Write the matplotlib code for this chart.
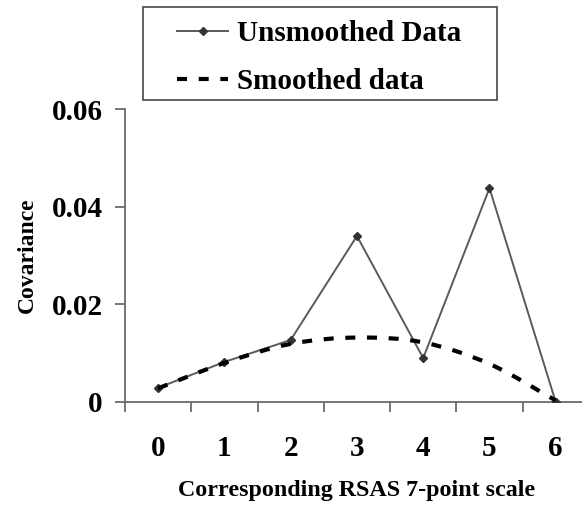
import numpy as np
import matplotlib.pyplot as plt
from matplotlib.path import Path
from matplotlib.patches import PathPatch, Rectangle
from matplotlib.lines import Line2D
from matplotlib.ticker import FixedLocator

# -------- DATA --------
scale_points = [0, 1, 2, 3, 4, 5, 6]
unsmoothed = [0.0029, 0.0082, 0.0127, 0.0340, 0.0090, 0.0438, 0.0000]
smoothed = [0.0028, 0.0080, 0.0119, 0.0132, 0.0122, 0.0078, 0.0003]
y_ticks = [0, 0.02, 0.04, 0.06]
y_tick_labels = ["0", "0.02", "0.04", "0.06"]
# ----------------------

plt.rcParams["font.family"] = ["Liberation Serif", "DejaVu Serif"]
plt.rcParams["font.weight"] = "bold"

AXIS_GREY = "#6a6a6a"

fig = plt.figure(figsize=(5.82, 5.05), dpi=100)
ax = fig.add_axes([0.2148, 0.204, 0.797, 0.580])

# unsmoothed line with small diamonds
ax.plot(scale_points, unsmoothed, color="#5a5a5a", lw=1.4,
        marker="D", markersize=4, markerfacecolor="#333333",
        markeredgecolor="#333333", zorder=3)


# smoothed line: Excel-like smooth curve (Catmull-Rom as cubic Bezier)
def smooth_path(xs, ys):
    pts = np.column_stack([xs, ys])
    verts = [pts[0]]
    codes = [Path.MOVETO]
    n = len(pts)
    for i in range(n - 1):
        p0 = pts[i - 1] if i > 0 else pts[i]
        p1 = pts[i]
        p2 = pts[i + 1]
        p3 = pts[i + 2] if i + 2 < n else pts[i + 1]
        c1 = p1 + (p2 - p0) / 6.0
        c2 = p2 - (p3 - p1) / 6.0
        verts += [c1, c2, p2]
        codes += [Path.CURVE4] * 3
    return Path(verts, codes)


patch = PathPatch(smooth_path(scale_points, smoothed), facecolor="none",
                  edgecolor="black", lw=3.0, linestyle=(0, (2.4, 2.8)),
                  zorder=4)
ax.add_patch(patch)

ax.set_xlim(-0.5, 6.5)
ax.set_ylim(0, 0.06)

# category style x axis: labels on integers, ticks between categories
ax.set_xticks(scale_points)
ax.set_xticklabels([str(v) for v in scale_points])
ax.xaxis.set_minor_locator(FixedLocator(np.arange(-0.5, 7, 1)))
ax.tick_params(axis="x", which="major", length=0, pad=24, labelsize=21)
ax.tick_params(axis="x", which="minor", length=7, width=1.3,
               color=AXIS_GREY, direction="out")

ax.set_yticks(y_ticks)
ax.set_yticklabels(y_tick_labels)
ax.tick_params(axis="y", length=7, width=1.3, color=AXIS_GREY,
               direction="out", pad=9, labelsize=21)

for s in ["top", "right"]:
    ax.spines[s].set_visible(False)
for s in ["left", "bottom"]:
    ax.spines[s].set_color(AXIS_GREY)
    ax.spines[s].set_linewidth(1.3)
ax.spines["left"].set_bounds(0, 0.06)

ax.set_xlabel("Corresponding RSAS 7-point scale", fontsize=17.3,
              fontweight="bold")
ax.xaxis.set_label_coords((357 - 125) / 464, -(480 - 402) / 293)
ax.set_ylabel("Covariance", fontsize=17, fontweight="bold")
ax.yaxis.set_label_coords(-(125 - 38) / 464, (402 - 255) / 293)

# legend: frame drawn separately so the padding can differ per side
fig.add_artist(Rectangle((143 / 582, 1 - 100 / 505), 354 / 582, 93 / 505,
                         transform=fig.transFigure, fill=False,
                         edgecolor="#555555", lw=1.3))
handles = [
    Line2D([], [], color="#5a5a5a", lw=1.4, marker="D", markersize=4,
           markerfacecolor="#333333", markeredgecolor="#333333"),
    Line2D([], [], color="black", lw=3.0, linestyle=(0, (2.4, 2.8))),
]
leg = fig.legend(handles, ["Unsmoothed Data", "Smoothed data"],
                 loc="upper left", bbox_to_anchor=(177 / 582, 1 - 20 / 505),
                 prop={"family": "Liberation Serif", "weight": "bold",
                       "size": 21},
                 frameon=False, handlelength=1.75,
                 handletextpad=0.3, borderpad=0, labelspacing=0.72,
                 borderaxespad=0)

fig.savefig("out.png", dpi=100)
